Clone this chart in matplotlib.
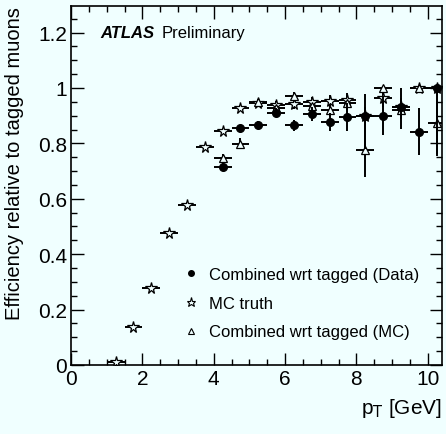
import numpy as np
import matplotlib
matplotlib.use("Agg")
import matplotlib.pyplot as plt
from matplotlib.lines import Line2D
from matplotlib.ticker import MultipleLocator

plt.rcParams['font.family'] = ['Liberation Sans', 'DejaVu Sans']

# bin centres (GeV), bin half-width 0.25
pt_truth = [1.25, 1.75, 2.25, 2.75, 3.25, 3.75, 4.25, 4.75, 5.25, 5.75, 6.25, 6.75, 7.25, 7.75, 8.25, 8.75, 9.25, 9.75, 10.25]
eff_truth = [0.01, 0.138, 0.277, 0.475, 0.579, 0.786, 0.846, 0.928, 0.947, 0.939, 0.942, 0.949, 0.953, 0.958, 0.90, 0.963, 0.93, 1.0, 1.0]
err_truth = [0.005, 0.006, 0.007, 0.008, 0.008, 0.008, 0.009, 0.01, 0.012, 0.015, 0.018, 0.02, 0.022, 0.025, 0.03, 0.03, 0.035, 0.0, 0.0]

pt_data = [4.25, 4.75, 5.25, 5.75, 6.25, 6.75, 7.25, 7.75, 8.25, 8.75, 9.25, 9.75, 10.25]
eff_data = [0.716, 0.854, 0.868, 0.910, 0.866, 0.906, 0.878, 0.895, 0.900, 0.900, 0.933, 0.842, 1.0]
err_data_lo = [0.012, 0.013, 0.013, 0.016, 0.02, 0.024, 0.033, 0.05, 0.12, 0.07, 0.08, 0.084, 0.244]
err_data_hi = [0.012, 0.013, 0.013, 0.016, 0.02, 0.024, 0.033, 0.05, 0.08, 0.07, 0.066, 0.084, 0.0]

pt_mc = [4.25, 4.75, 5.25, 5.75, 6.25, 6.75, 7.25, 7.75, 8.25, 8.75, 9.25, 9.75, 10.25]
eff_mc = [0.746, 0.798, 0.949, 0.927, 0.972, 0.936, 0.919, 0.945, 0.777, 1.0, 0.919, 1.0, 0.873]
err_mc_lo = [0.015, 0.02, 0.01, 0.012, 0.015, 0.016, 0.02, 0.025, 0.10, 0.0, 0.03, 0.0, 0.11]
err_mc_hi = [0.015, 0.02, 0.01, 0.012, 0.015, 0.016, 0.02, 0.025, 0.10, 0.0, 0.03, 0.0, 0.11]

labels = ['Combined wrt tagged (Data)', 'MC truth', 'Combined wrt tagged (MC)']
bg = '#F0FFFF'

fig = plt.figure(figsize=(4.46, 4.35), dpi=100, facecolor=bg)
ax = fig.add_axes([71/446, 1-366/435, (442-71)/446, (366-7)/435])
ax.set_facecolor(bg)

xe = 0.25
common = dict(ecolor='black', elinewidth=1.4, capsize=0, linestyle='none', color='black')
ax.errorbar(pt_truth, eff_truth, xerr=xe, yerr=err_truth, marker='*', ms=8.5, mfc=bg, mec='black', mew=0.9, **common, zorder=3)
ax.errorbar(pt_mc, eff_mc, xerr=xe, yerr=[err_mc_lo, err_mc_hi], marker='^', ms=6, mfc=bg, mec='black', mew=0.9, **common, zorder=3)
ax.errorbar(pt_data, eff_data, xerr=xe, yerr=[err_data_lo, err_data_hi], marker='o', ms=5.5, mfc='black', mec='black', **common, zorder=4)

ax.set_xlim(0, 10.4)
ax.set_ylim(0, 1.296)
ax.xaxis.set_minor_locator(MultipleLocator(0.5))
ax.yaxis.set_minor_locator(MultipleLocator(0.05))
ax.set_xticks([0, 2, 4, 6, 8, 10])
ax.set_xticklabels(['0', '2', '4', '6', '8', '10'])
ax.set_yticks([0, 0.2, 0.4, 0.6, 0.8, 1.0, 1.2])
ax.set_yticklabels(['0', '0.2', '0.4', '0.6', '0.8', '1', '1.2'])
ax.tick_params(which='both', direction='in', top=True, right=True, labelsize=15, width=1)
ax.tick_params(which='major', length=9, pad=3)
ax.tick_params(which='minor', length=4.5)
for s in ax.spines.values():
    s.set_linewidth(1.2)

ax.set_ylabel('Efficiency relative to tagged muons', fontsize=14.5, loc='top', labelpad=10)
fig.text(442/446, 1-409/435, r'p$_{\mathrm{T}}$ [GeV]', fontsize=15, ha='right', va='center')

ax.text(0.078, 0.925, 'ATLAS', transform=ax.transAxes, fontsize=12, fontweight='bold', fontstyle='italic', va='center')
ax.text(0.245, 0.925, 'Preliminary', transform=ax.transAxes, fontsize=12, va='center')

handles = [Line2D([], [], marker='o', ms=4, color='black', ls='none'),
           Line2D([], [], marker='*', ms=6.5, mfc=bg, mec='black', mew=0.8, ls='none'),
           Line2D([], [], marker='^', ms=4.5, mfc=bg, mec='black', mew=0.8, ls='none')]
ax.legend(handles, labels, loc='center left', bbox_to_anchor=(0.301, 0.172), frameon=False,
          fontsize=12, handletextpad=0.6, labelspacing=0.82, handlelength=1.0,
          borderpad=0, borderaxespad=0)

fig.savefig('out.png', dpi=100, facecolor=bg)
